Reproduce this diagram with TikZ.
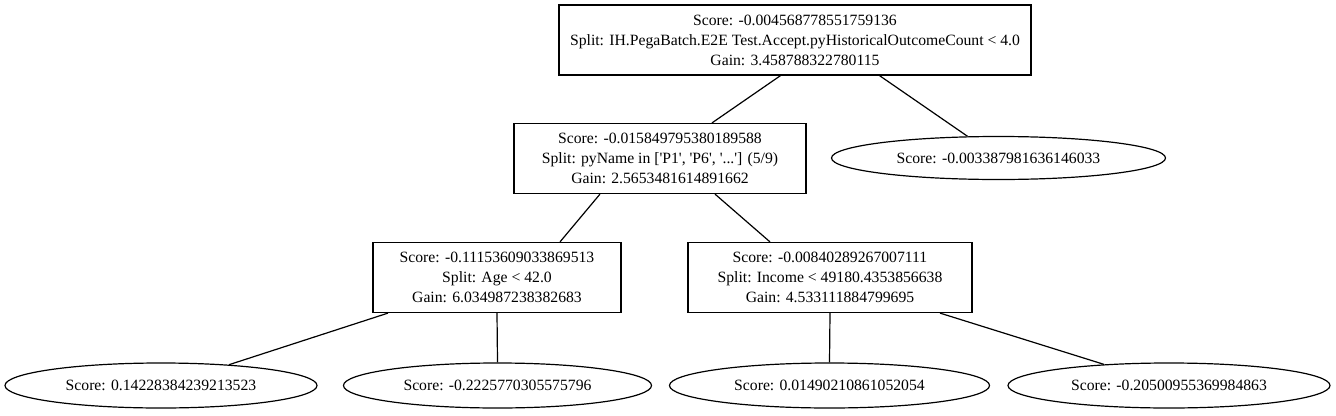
\documentclass[tikz,border=0pt]{standalone}
\usepackage{fontspec}
\setmainfont{Liberation Serif}
\usetikzlibrary{shapes.geometric}

\tikzset{
  splitbox/.style={draw, line width=1.2pt, rectangle, align=center, inner sep=0pt, minimum height=70pt},
  leafnode/.style={draw, line width=1.2pt, ellipse, inner sep=0pt, minimum height=45pt},
  edge/.style={line width=1.2pt}
}
\newcommand{\sq}{\textquotesingle}

\begin{document}
\begin{tikzpicture}[x=1pt, y=-1pt, font=\fontsize{15.7}{20}\selectfont]
        \useasboundingbox (0,0) rectangle (1336,415);

        % caixas de split
        \node[splitbox, minimum width=472pt] (root) at (795,40) {Score: -0.004568778551759136\\Split: IH.PegaBatch.E2E Test.Accept.pyHistoricalOutcomeCount < 4.0\\Gain: 3.458788322780115};
        \node[splitbox, minimum width=292pt] (pyname) at (660,158.5) {Score: -0.015849795380189588\\Split: pyName in [\sq P1\sq, \sq P6\sq, \sq...\sq] (5/9)\\Gain: 2.5653481614891662};
        \node[splitbox, minimum width=248pt] (age) at (497,277.5) {Score: -0.11153609033869513\\Split: Age < 42.0\\Gain: 6.034987238382683};
        \node[splitbox, minimum width=284pt] (income) at (830,277.5) {Score: -0.00840289267007111\\Split: Income < 49180.4353856638\\Gain: 4.533111884799695};

        % folhas
        \node[leafnode, minimum width=334pt, minimum height=43pt] (rleaf) at (998.5,158) {Score: -0.003387981636146033};
        \node[leafnode, minimum width=312pt] (leafa) at (161,385.5) {Score: 0.14228384239213523};
        \node[leafnode, minimum width=308pt] (leafb) at (497.5,385.5) {Score: -0.2225770305575796};
        \node[leafnode, minimum width=320pt] (leafc) at (829.5,385.5) {Score: 0.01490210861052054};
        \node[leafnode, minimum width=322pt] (leafd) at (1169,385.5) {Score: -0.20500955369984863};

        % arestas
        \draw[edge] ([xshift=-14.5pt]root.south) -- ([xshift=52pt]pyname.north);
        \draw[edge] ([xshift=84.5pt]root.south) -- (rleaf.145);
        \draw[edge] ([xshift=-60pt]pyname.south) -- ([xshift=63pt]age.north);
        \draw[edge] ([xshift=55pt]pyname.south) -- ([xshift=-60pt]income.north);
        \draw[edge] ([xshift=-109pt]age.south) -- (leafa.17);
        \draw[edge] (age.south) -- (leafb.north);
        \draw[edge] (income.south) -- (leafc.north);
        \draw[edge] ([xshift=110pt]income.south) -- (leafd.162);

    \end{tikzpicture}
\end{document}
